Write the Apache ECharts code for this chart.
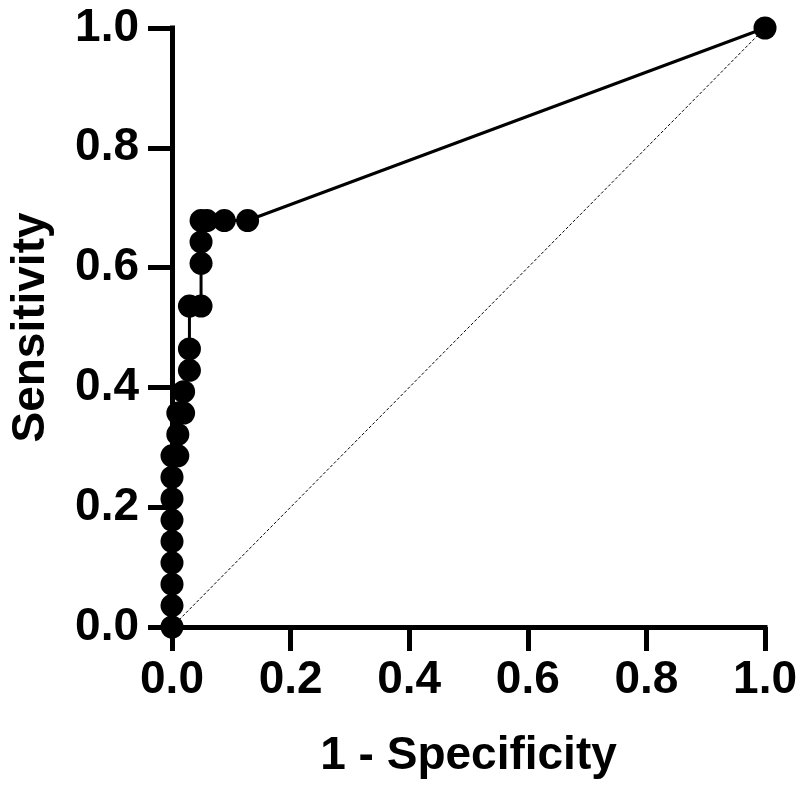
<!DOCTYPE html>
<html>
<head>
<meta charset="utf-8">
<script src="https://cdn.jsdelivr.net/npm/echarts@6/dist/echarts.min.js"></script>
<style>html,body{margin:0;padding:0;background:#fff}#c{width:800px;height:792px}</style>
</head>
<body>
<div id="c"></div>
<script>
// 1 - Specificity (false positive rate)
const fpr = [0, 0, 0, 0, 0, 0, 0, 0, 0, 0.0098, 0.0098, 0.0098, 0.0196, 0.0196, 0.0294, 0.0294, 0.0294, 0.049, 0.049, 0.049, 0.049, 0.0588, 0.0882, 0.1275, 1];
// Sensitivity (true positive rate)
const tpr = [0, 0.0357, 0.0714, 0.1071, 0.1429, 0.1786, 0.2143, 0.25, 0.2857, 0.2857, 0.3214, 0.3571, 0.3571, 0.3929, 0.4286, 0.4643, 0.5357, 0.5357, 0.6071, 0.6429, 0.6786, 0.6786, 0.6786, 0.6786, 1];
const refX = [0, 1];
const refY = [0, 1];
const tickVals = [0, 0.2, 0.4, 0.6, 0.8, 1.0];

const font = 'Liberation Sans, Arial, sans-serif';
const chart = echarts.init(document.getElementById('c'), null, {renderer: 'canvas'});
const axisCommon = {
  type: 'value', min: 0, max: 1, interval: 0.2,
  axisLine: {show: true, lineStyle: {color: '#000', width: 5, cap: 'square'}},
  axisTick: {show: true, length: 24, lineStyle: {color: '#000', width: 5}},
  splitLine: {show: false},
  axisLabel: {color: '#000', fontFamily: font, fontWeight: 'bold', fontSize: 46,
    formatter: v => v.toFixed(1)},
  nameLocation: 'middle',
  nameTextStyle: {color: '#000', fontFamily: font, fontWeight: 'bold', fontSize: 46}
};
chart.setOption({
  animation: false,
  backgroundColor: '#fff',
  grid: {left: 171, right: 34, top: 28, bottom: 165},
  xAxis: Object.assign({}, axisCommon, {
    name: '1 - Specificity', nameGap: 106,
    axisLabel: Object.assign({}, axisCommon.axisLabel, {margin: 30})
  }),
  yAxis: Object.assign({}, axisCommon, {
    name: 'Sensitivity', nameGap: 118,
    axisLabel: Object.assign({}, axisCommon.axisLabel, {margin: 33})
  }),
  series: [
    {
      type: 'line', data: refX.map((x, i) => [x, refY[i]]),
      symbol: 'none', clip: false, z: 1,
      lineStyle: {color: '#000', width: 1, type: [3, 2]}
    },
    {
      type: 'line', data: fpr.map((x, i) => [x, tpr[i]]),
      symbol: 'circle', symbolSize: 23, clip: false, z: 3,
      itemStyle: {color: '#000'},
      lineStyle: {color: '#000', width: 3}
    }
  ]
});
</script>
</body>
</html>
